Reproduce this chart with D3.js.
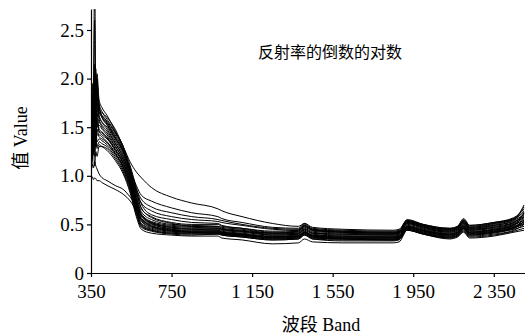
<!DOCTYPE html>
<html>
<head>
<meta charset="utf-8">
<script src="https://cdn.jsdelivr.net/npm/d3@7"></script>
<style>
  body { margin: 0; background: #fff; }
  svg { display: block; }
  .tick text { font-family: "Liberation Serif", "Times New Roman", serif; font-size: 19px; fill: #000; }
  .domain, .tick line { stroke: #000; stroke-width: 1.2; }
</style>
</head>
<body>
<div id="vis"></div>
<script>
var bands = [350, 356, 362, 368, 374, 380, 390, 405, 430, 470, 510, 545, 575, 600, 650, 750,
             850, 980, 1000, 1100, 1250, 1380, 1410, 1450, 1600, 1850, 1880, 1920, 2000, 2130,
             2170, 2200, 2230, 2350, 2450, 2500];

// log(1/R) spectra, one row per sample
var spectra = [
  [1.35,1.70,1.50,1.85,1.60,1.75,1.68,1.65,1.60,1.48,1.30,1.14,1.04,0.98,0.88,0.78,0.72,0.66,0.64,0.58,0.51,0.48,0.51,0.47,0.45,0.44,0.45,0.54,0.50,0.46,0.48,0.55,0.49,0.52,0.57,0.66],
  [1.45,1.60,1.95,1.75,1.90,1.68,1.65,1.62,1.56,1.44,1.28,1.06,0.90,0.80,0.74,0.67,0.62,0.58,0.56,0.52,0.47,0.46,0.51,0.46,0.44,0.43,0.44,0.55,0.50,0.46,0.48,0.56,0.49,0.52,0.56,0.64],
  [1.38,1.80,1.55,2.00,1.80,1.95,1.75,1.66,1.58,1.45,1.30,1.04,0.86,0.76,0.68,0.62,0.58,0.55,0.54,0.50,0.46,0.45,0.50,0.45,0.43,0.42,0.43,0.53,0.49,0.45,0.47,0.54,0.48,0.51,0.55,0.70],
  [1.30,1.65,1.85,2.60,1.70,1.85,1.70,1.60,1.54,1.42,1.26,1.02,0.82,0.72,0.64,0.58,0.55,0.53,0.52,0.49,0.45,0.44,0.49,0.44,0.42,0.41,0.42,0.52,0.48,0.44,0.46,0.52,0.46,0.49,0.54,0.60],
  [1.40,1.85,1.60,2.05,1.75,1.90,1.70,1.62,1.55,1.40,1.26,1.08,0.85,0.66,0.58,0.52,0.50,0.50,0.48,0.46,0.43,0.44,0.49,0.45,0.43,0.42,0.43,0.54,0.49,0.45,0.47,0.54,0.47,0.50,0.55,0.63],
  [1.25,1.70,1.45,1.95,2.10,1.80,1.72,1.60,1.52,1.38,1.24,1.05,0.80,0.63,0.55,0.50,0.49,0.48,0.47,0.45,0.41,0.43,0.48,0.44,0.42,0.41,0.42,0.53,0.48,0.44,0.46,0.53,0.46,0.49,0.53,0.58],
  [1.35,1.50,1.65,3.20,1.65,1.75,1.60,1.55,1.50,1.36,1.22,1.02,0.78,0.61,0.53,0.49,0.48,0.48,0.46,0.44,0.41,0.42,0.47,0.43,0.41,0.40,0.41,0.52,0.47,0.43,0.45,0.52,0.45,0.48,0.52,0.60],
  [1.20,1.45,1.65,1.50,1.95,1.70,1.62,1.55,1.48,1.34,1.20,1.00,0.76,0.59,0.52,0.48,0.47,0.46,0.45,0.43,0.41,0.41,0.46,0.42,0.40,0.40,0.41,0.51,0.46,0.42,0.44,0.51,0.44,0.47,0.51,0.57],
  [1.30,1.60,1.35,1.80,1.55,2.00,1.58,1.52,1.46,1.33,1.19,0.99,0.75,0.58,0.51,0.47,0.46,0.46,0.45,0.43,0.40,0.41,0.45,0.41,0.39,0.39,0.40,0.50,0.46,0.42,0.44,0.50,0.44,0.46,0.50,0.54],
  [1.15,1.40,1.55,1.45,1.70,1.50,1.52,1.48,1.42,1.30,1.16,0.96,0.72,0.56,0.50,0.46,0.45,0.45,0.44,0.42,0.39,0.40,0.44,0.40,0.38,0.38,0.39,0.49,0.45,0.41,0.43,0.49,0.43,0.45,0.49,0.56],
  [1.28,1.35,1.75,1.55,1.45,1.65,1.48,1.45,1.40,1.28,1.14,0.94,0.70,0.54,0.48,0.45,0.44,0.44,0.43,0.41,0.38,0.39,0.43,0.39,0.37,0.37,0.38,0.48,0.44,0.40,0.42,0.48,0.42,0.44,0.48,0.52],
  [1.10,1.50,1.30,1.60,1.40,1.55,1.45,1.42,1.38,1.26,1.12,0.92,0.68,0.53,0.47,0.44,0.43,0.43,0.42,0.40,0.37,0.38,0.42,0.38,0.36,0.36,0.37,0.47,0.43,0.39,0.41,0.47,0.41,0.43,0.47,0.50],
  [1.22,1.30,1.50,1.38,1.60,1.42,1.42,1.40,1.35,1.24,1.10,0.90,0.66,0.51,0.46,0.43,0.42,0.42,0.41,0.39,0.36,0.37,0.41,0.37,0.36,0.35,0.36,0.46,0.42,0.38,0.40,0.46,0.40,0.42,0.46,0.53],
  [1.05,1.25,1.40,1.30,1.50,1.35,1.38,1.36,1.32,1.22,1.08,0.88,0.64,0.50,0.45,0.42,0.41,0.41,0.40,0.38,0.35,0.36,0.40,0.36,0.35,0.34,0.35,0.45,0.41,0.37,0.39,0.45,0.39,0.41,0.45,0.48],
  [1.18,1.20,1.35,1.25,1.40,1.30,1.35,1.33,1.30,1.20,1.06,0.86,0.62,0.48,0.44,0.41,0.40,0.40,0.39,0.37,0.34,0.35,0.39,0.35,0.34,0.34,0.35,0.44,0.40,0.36,0.38,0.44,0.38,0.40,0.44,0.50],
  [1.00,1.15,1.30,1.10,1.25,1.20,1.30,1.30,1.28,1.18,1.04,0.84,0.60,0.47,0.43,0.40,0.39,0.40,0.39,0.37,0.34,0.35,0.39,0.35,0.33,0.33,0.34,0.44,0.40,0.36,0.38,0.43,0.37,0.39,0.43,0.46],
  [1.12,1.28,1.22,1.45,1.30,1.48,1.40,1.38,1.34,1.23,1.09,0.89,0.65,0.49,0.44,0.41,0.41,0.41,0.40,0.38,0.35,0.36,0.40,0.36,0.35,0.34,0.35,0.45,0.41,0.37,0.39,0.46,0.39,0.42,0.47,0.55],
  [1.08,1.18,1.32,1.20,1.35,1.28,1.32,1.30,1.26,1.16,1.02,0.82,0.58,0.45,0.41,0.39,0.38,0.38,0.36,0.34,0.30,0.31,0.35,0.32,0.31,0.31,0.32,0.44,0.40,0.35,0.37,0.42,0.36,0.38,0.42,0.44],
  [1.05,1.12,1.08,1.15,1.10,1.07,1.02,0.98,0.95,0.90,0.86,0.78,0.69,0.60,0.51,0.45,0.43,0.43,0.42,0.40,0.37,0.38,0.42,0.38,0.36,0.36,0.37,0.47,0.43,0.39,0.41,0.47,0.41,0.43,0.47,0.53],
  [0.97,0.99,0.96,0.98,0.97,0.95,0.95,0.93,0.90,0.86,0.81,0.74,0.64,0.56,0.48,0.43,0.42,0.42,0.41,0.39,0.36,0.37,0.41,0.37,0.35,0.35,0.36,0.46,0.42,0.38,0.40,0.46,0.40,0.42,0.46,0.51],
  [1.50,1.95,1.70,2.15,1.85,2.05,1.78,1.70,1.62,1.46,1.30,1.10,0.88,0.71,0.60,0.55,0.52,0.51,0.49,0.46,0.42,0.43,0.48,0.44,0.42,0.41,0.42,0.53,0.49,0.45,0.47,0.53,0.47,0.51,0.56,0.68],
  [1.32,1.55,1.78,1.62,1.85,1.60,1.56,1.50,1.44,1.31,1.17,0.97,0.73,0.59,0.52,0.47,0.45,0.44,0.42,0.40,0.37,0.38,0.42,0.38,0.37,0.37,0.38,0.48,0.44,0.40,0.42,0.48,0.42,0.45,0.50,0.58],
  [1.20,1.42,1.28,1.52,1.38,1.58,1.46,1.44,1.39,1.27,1.13,0.93,0.69,0.55,0.49,0.44,0.42,0.41,0.40,0.39,0.37,0.38,0.42,0.39,0.38,0.37,0.38,0.48,0.44,0.40,0.42,0.49,0.42,0.44,0.49,0.62],
  [1.42,1.75,1.52,1.90,1.62,1.82,1.66,1.60,1.53,1.39,1.25,1.06,0.83,0.67,0.57,0.51,0.48,0.47,0.45,0.43,0.39,0.40,0.45,0.41,0.40,0.39,0.40,0.51,0.47,0.43,0.45,0.51,0.45,0.47,0.52,0.61]
];

var xTicks = [350, 750, 1150, 1550, 1950, 2350];
var yTicks = [0, 0.5, 1.0, 1.5, 2.0, 2.5];
var yTickLabels = ["0", "0.5", "1.0", "1.5", "2.0", "2.5"];
var titleText = "反射率的倒数的对数";
var xTitle = "波段 Band";
var yTitle = "值 Value";

var W = 525, H = 334;
var margin = {left: 91, right: 525, top: 9, bottom: 273};

var svg = d3.select("div#vis").append("svg")
    .attr("width", W)
    .attr("height", H);

var x = d3.scaleLinear().domain([350, 2505]).range([margin.left, margin.right]);
var y = d3.scaleLinear().domain([0, 2.716]).range([margin.bottom, margin.top]);

svg.append("clipPath").attr("id", "plot-clip")
  .append("rect")
    .attr("x", margin.left).attr("y", margin.top)
    .attr("width", margin.right - margin.left).attr("height", margin.bottom - margin.top);

var line = d3.line()
    .x(function(d, i) { return x(bands[i]); })
    .y(function(d) { return y(d); })
    .curve(d3.curveMonotoneX);

svg.append("g")
    .attr("clip-path", "url(#plot-clip)")
  .selectAll("path")
    .data(spectra)
  .enter().append("path")
    .attr("d", line)
    .attr("fill", "none")
    .attr("stroke", "#000")
    .attr("stroke-width", 1)
    .attr("stroke-linejoin", "round");

// axes
var xAxis = d3.axisBottom(x)
    .tickValues(xTicks)
    .tickSizeInner(4).tickSizeOuter(0)
    .tickPadding(8)
    .tickFormat(function(d) { return d >= 1000 ? Math.floor(d / 1000) + " " + d3.format("03d")(d % 1000) : d; });

svg.append("g")
    .attr("transform", "translate(0," + margin.bottom + ")")
    .call(xAxis);

var yAxis = d3.axisLeft(y)
    .tickValues(yTicks)
    .tickSizeInner(4).tickSizeOuter(0)
    .tickPadding(3)
    .tickFormat(function(d, i) { return yTickLabels[i]; });

svg.append("g")
    .attr("transform", "translate(" + margin.left + ",0)")
    .call(yAxis);

svg.append("text")
    .attr("x", 330).attr("y", 58)
    .attr("text-anchor", "middle")
    .style("font-family", "'Noto Sans CJK SC', sans-serif")
    .style("font-size", "16px")
    .text(titleText);

svg.append("text")
    .attr("x", 321).attr("y", 331)
    .attr("text-anchor", "middle")
    .style("font-family", "'Liberation Serif', 'Noto Sans CJK SC', serif")
    .style("font-size", "18px")
    .text(xTitle);

svg.append("text")
    .attr("transform", "translate(27,138) rotate(-90)")
    .attr("text-anchor", "middle")
    .style("font-family", "'Liberation Serif', 'Noto Sans CJK SC', serif")
    .style("font-size", "18px")
    .text(yTitle);
</script>
</body>
</html>
